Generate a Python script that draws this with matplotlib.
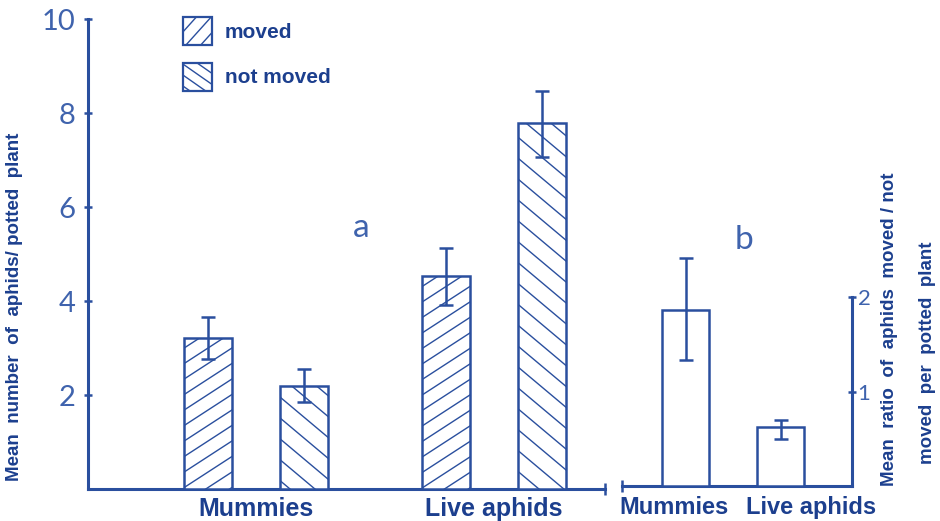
import numpy as np
import matplotlib
matplotlib.use("Agg")
from matplotlib import pyplot as plt
from matplotlib.patches import Rectangle
from matplotlib.collections import LineCollection

# %% data
groups = ["Mummies", "Live aphids"]
moved_mean = [3.21, 4.53]
moved_lo = [2.77, 3.91]
moved_hi = [3.66, 5.13]
notmoved_mean = [2.19, 7.79]
notmoved_lo = [1.85, 7.06]
notmoved_hi = [2.55, 8.47]

ratio_mean = [1.86, 0.62]
ratio_lo = [1.33, 0.50]
ratio_hi = [2.41, 0.70]

left_ticks = [2, 4, 6, 8, 10]
right_ticks = [1, 2]

# %% style
W, H = 940, 521
ink = "#2a4f9e"
txt = "#1c3f8e"
light = "#3f63ad"
lw_axis = 2.2
lw_bar = 1.8
num_font = dict(family=["Lato", "DejaVu Sans"], weight="normal")
bold_font = dict(family=["Liberation Sans", "DejaVu Sans"], weight="bold")

fig = plt.figure(figsize=(W / 100, H / 100), dpi=100)
fig.patch.set_facecolor("white")


def add_hatch(patch, angle, spacing, lw=1.0):
    # parallel lines in pixel space, clipped to the patch
    t = np.radians(angle)
    d = np.array([np.cos(t), np.sin(t)])
    n = np.array([-np.sin(t), np.cos(t)])
    diag = np.hypot(W, H)
    c = np.array([W / 2, H / 2])
    segs = []
    for o in np.arange(-diag, diag, spacing):
        p0 = c + o * n - diag * d
        p1 = c + o * n + diag * d
        segs.append([(p0[0] / W, p0[1] / H), (p1[0] / W, p1[1] / H)])
    lc = LineCollection(segs, colors=ink, linewidths=lw, transform=fig.transFigure, zorder=4)
    lc.set_clip_path(patch)
    fig.add_artist(lc)


# %% panel a
ax1 = fig.add_axes([88 / W, (H - 489) / H, (605 - 88) / W, 470 / H])
ax1.set_xlim(-3.49, 7.28)
ax1.set_ylim(0, 10)
gx = np.array([0, 4.96])

bars_m = ax1.bar(gx - 1, moved_mean, width=1, facecolor="white", edgecolor=ink, linewidth=lw_bar, zorder=3)
bars_n = ax1.bar(gx + 1, notmoved_mean, width=1, facecolor="white", edgecolor=ink, linewidth=lw_bar, zorder=3)
for b in bars_m:
    add_hatch(b, 33, 13)
for b in bars_n:
    add_hatch(b, -40, 16)

m = np.array(moved_mean)
ax1.errorbar(gx - 1, m, yerr=[m - np.array(moved_lo), np.array(moved_hi) - m], fmt="none",
             ecolor=ink, elinewidth=1.8, capsize=5, capthick=1.8, zorder=5)
nm = np.array(notmoved_mean)
ax1.errorbar(gx + 1, nm, yerr=[nm - np.array(notmoved_lo), np.array(notmoved_hi) - nm], fmt="none",
             ecolor=ink, elinewidth=1.8, capsize=5, capthick=1.8, zorder=5)

ax1.spines["top"].set_visible(False)
ax1.spines["right"].set_visible(False)
for s in ["left", "bottom"]:
    ax1.spines[s].set_color(ink)
    ax1.spines[s].set_linewidth(lw_axis)
ax1.set_yticks(left_ticks)
ax1.set_yticklabels([str(v) for v in left_ticks], fontsize=21, color=light, **num_font)
ax1.tick_params(axis="y", direction="inout", length=6, width=1.8, color=ink, pad=6)
ax1.set_xticks(gx)
ax1.set_xticklabels(groups, fontsize=18, color=txt, **bold_font)
ax1.set_xticks([7.28], minor=True)
ax1.tick_params(axis="x", which="major", length=0, pad=6)
ax1.tick_params(axis="x", which="minor", direction="inout", length=8, width=1.8, color=ink)
ax1.patch.set_alpha(0)

# %% panel b
ax2 = fig.add_axes([622 / W, (H - 486) / H, (852 - 622) / W, 189 / H])
ax2.set_xlim(-1.34, 3.5)
ax2.set_ylim(0, 2)
bx = np.array([0, 2])
ax2.bar(bx, ratio_mean, width=1, facecolor="white", edgecolor=ink, linewidth=lw_bar, zorder=3)
r = np.array(ratio_mean)
ax2.errorbar(bx, r, yerr=[r - np.array(ratio_lo), np.array(ratio_hi) - r], fmt="none",
             ecolor=ink, elinewidth=1.8, capsize=5, capthick=1.8, zorder=5, clip_on=False)
ax2.spines["top"].set_visible(False)
ax2.spines["left"].set_visible(False)
for s in ["right", "bottom"]:
    ax2.spines[s].set_color(ink)
    ax2.spines[s].set_linewidth(lw_axis)
ax2.yaxis.tick_right()
ax2.set_yticks(right_ticks)
ax2.set_yticklabels([str(v) for v in right_ticks], fontsize=16, color=light, **num_font)
ax2.tick_params(axis="y", direction="inout", length=6, width=1.8, color=ink, pad=1)
ax2.set_xticks([-0.24, 2.64])
ax2.set_xticklabels(groups, fontsize=17, color=txt, **bold_font)
ax2.set_xticks([-1.34], minor=True)
ax2.tick_params(axis="x", which="major", length=0, pad=7)
ax2.tick_params(axis="x", which="minor", direction="inout", length=8, width=1.8, color=ink)
ax2.patch.set_alpha(0)

# %% panel letters and axis titles
fig.text(361 / W, 1 - 228 / H, "a", fontsize=24, color=light, ha="center", va="center", **num_font)
fig.text(744 / W, 1 - 240 / H, "b", fontsize=24, color=light, ha="center", va="center", **num_font)
fig.text(15 / W, 1 - 307 / H, "Mean  number  of  aphids/ potted  plant", rotation=90, fontsize=13.5,
         color=txt, ha="center", va="center", **bold_font)
fig.text(890 / W, 1 - 329 / H, "Mean  ratio  of  aphids  moved / not", rotation=90, fontsize=13.5,
         color=txt, ha="center", va="center", **bold_font)
fig.text(927 / W, 1 - 353 / H, "moved  per  potted  plant", rotation=90, fontsize=13.5,
         color=txt, ha="center", va="center", **bold_font)

# %% legend
leg = [("moved", 17, 48, 11), ("not moved", 63, -35, 9)]
for label, top, ang, sp in leg:
    rect = Rectangle((183 / W, 1 - (top + 28) / H), 29 / W, 28 / H, transform=fig.transFigure,
                     facecolor="white", edgecolor=ink, linewidth=1.6, zorder=3)
    fig.add_artist(rect)
    add_hatch(rect, ang, sp)
    fig.text(225 / W, 1 - (top + 15) / H, label, fontsize=15, color=txt, ha="left", va="center", **bold_font)

fig.savefig("out.png", dpi=100)
